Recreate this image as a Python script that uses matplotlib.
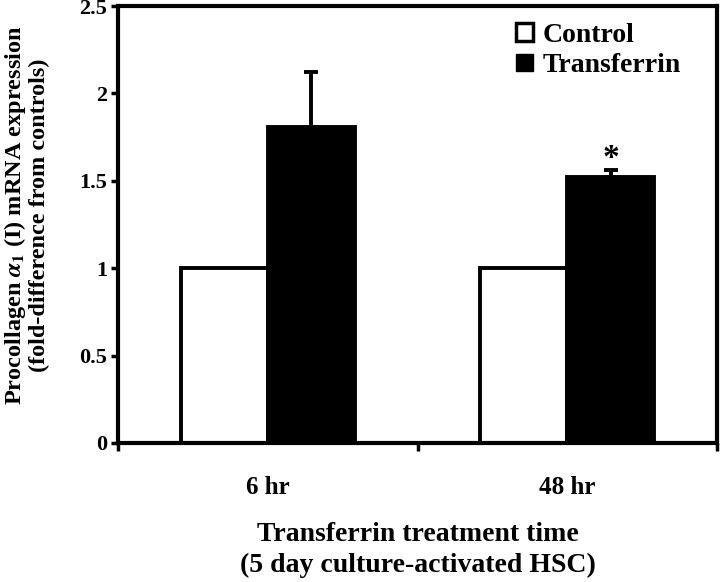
import matplotlib.pyplot as plt
from matplotlib.patches import Patch

# data
groups = ['6 hr', '48 hr']
control = [1.0, 1.0]
transferrin = [1.81, 1.52]
transferrin_err = [0.31, 0.04]
y_ticks = [0, 0.5, 1, 1.5, 2, 2.5]
y_tick_labels = ['0', '0.5', '1', '1.5', '2', '2.5']

plt.rcParams['font.family'] = ['Liberation Serif', 'DejaVu Serif']
plt.rcParams['font.weight'] = 'bold'
plt.rcParams['mathtext.fontset'] = 'stix'

W, H = 720, 582
fig = plt.figure(figsize=(W / 100, H / 100), dpi=100)
ax = fig.add_axes([118 / W, 1 - 443 / H, (717 - 118) / W, (443 - 6) / H])

centers = [0.5, 1.5]
w = 0.29
ax.bar([c - w / 2 for c in centers], control, width=w, color='white',
       edgecolor='black', linewidth=2.8, label='Control', zorder=2)
ax.bar([c + w / 2 for c in centers], transferrin, width=w, color='black',
       edgecolor='black', linewidth=2.8, label='Transferrin', zorder=2)
ax.errorbar([c + w / 2 for c in centers], transferrin,
            yerr=[[0, 0], transferrin_err], fmt='none', ecolor='black',
            elinewidth=2.8, capsize=5, capthick=2.8, zorder=3)

# significance mark
ax.text(centers[1] + w / 2, transferrin[1] + transferrin_err[1] - 0.02, '*',
        ha='center', va='bottom', fontsize=24, fontweight='bold')

ax.set_xlim(0, 2)
ax.set_ylim(0, 2.5)
ax.set_yticks(y_ticks)
ax.set_yticklabels(y_tick_labels, fontsize=16, fontweight='bold')
ax.set_xticks([0, 1, 2])
ax.set_xticklabels([])
ax.set_xticks(centers, minor=True)
ax.set_xticklabels(groups, minor=True, fontsize=18, fontweight='bold')
ax.tick_params(axis='x', which='minor', length=0, pad=24)
ax.tick_params(axis='x', which='major', direction='out', length=6, width=2.5)
ax.tick_params(axis='y', direction='out', length=5, width=2.5, pad=3)

for s in ax.spines.values():
    s.set_linewidth(3)

fig.text(26 / W, 1 - 215 / H,
         'Procollagen $\\alpha_1$ (I) mRNA expression\n(fold-difference from controls)',
         rotation=90, ha='center', va='center', fontsize=17.5,
         fontweight='bold', linespacing=1.05)
fig.text(418 / W, 1 - 550 / H,
         'Transferrin treatment time\n(5 day culture-activated HSC)',
         ha='center', va='center', fontsize=20, fontweight='bold',
         linespacing=1.35)

handles = [Patch(facecolor='white', edgecolor='black', linewidth=2.5, label='Control'),
           Patch(facecolor='black', edgecolor='black', label='Transferrin')]
ax.legend(handles=handles, loc='upper left', bbox_to_anchor=(0.637, 1.0),
          frameon=False, handlelength=0.6, handleheight=0.6,
          handletextpad=0.35, labelspacing=0.2, borderaxespad=0.2,
          prop={'weight': 'bold', 'size': 20})

fig.savefig('out.png', dpi=100)
